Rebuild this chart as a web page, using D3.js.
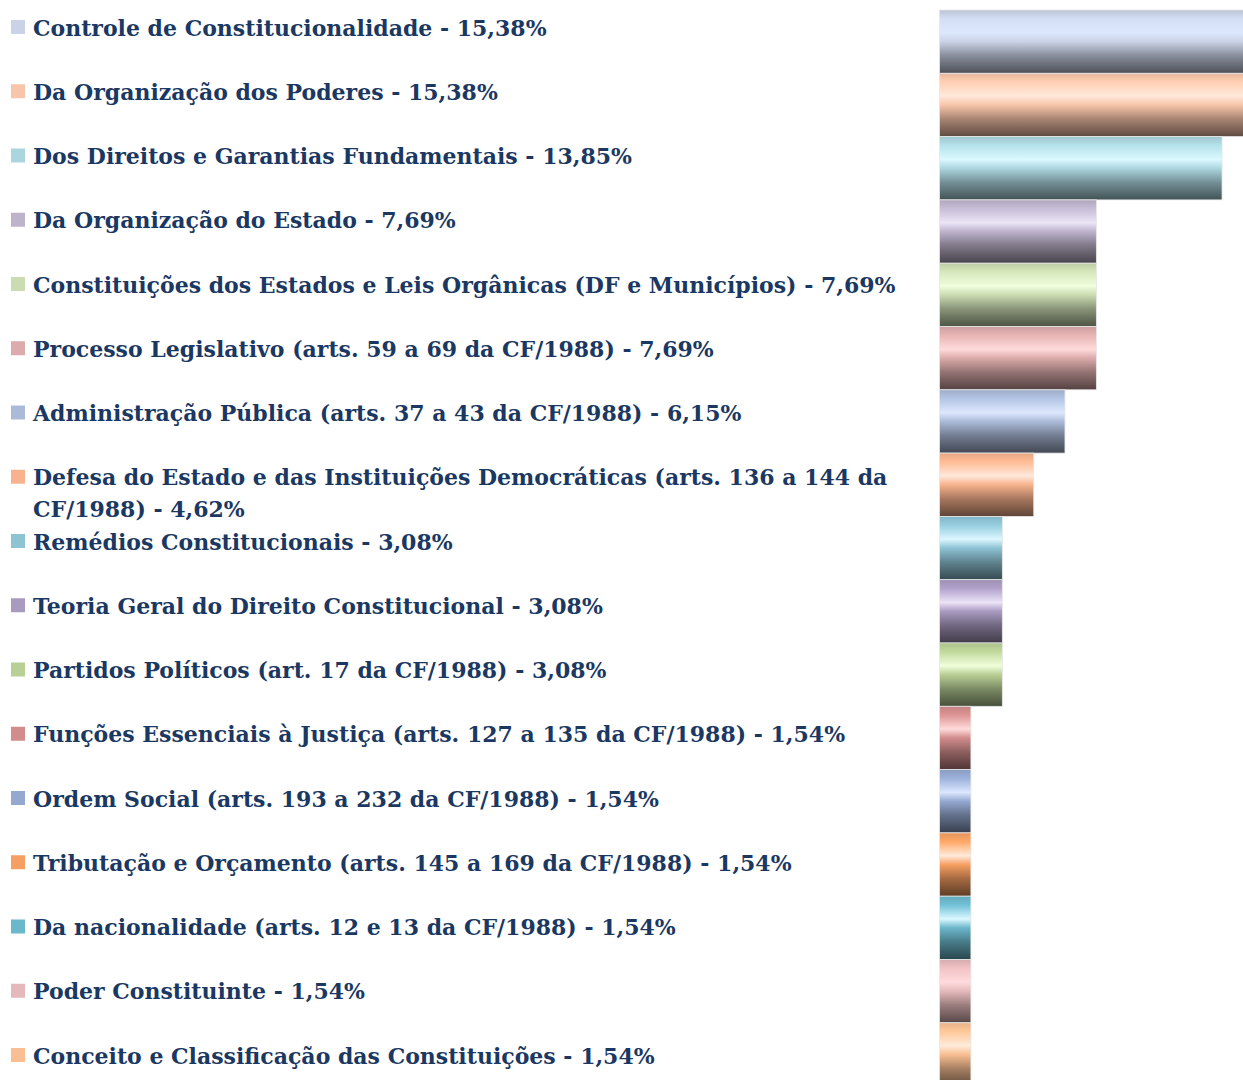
<!DOCTYPE html>
<html>
<head>
<meta charset="utf-8">
<script src="https://cdn.jsdelivr.net/npm/d3@7/dist/d3.min.js"></script>
<style>
  html, body { margin: 0; padding: 0; background: #fff; overflow: hidden; }
  svg { display: block; }
</style>
</head>
<body>
<svg id="chart" width="1243" height="1080"></svg>
<script>
// topics (legend order, top to bottom)
var categories = [
    'Controle de Constitucionalidade',
    'Da Organização dos Poderes',
    'Dos Direitos e Garantias Fundamentais',
    'Da Organização do Estado',
    'Constituições dos Estados e Leis Orgânicas (DF e Municípios)',
    'Processo Legislativo (arts. 59 a 69 da CF/1988)',
    'Administração Pública (arts. 37 a 43 da CF/1988)',
    'Defesa do Estado e das Instituições Democráticas (arts. 136 a 144 da CF/1988)',
    'Remédios Constitucionais',
    'Teoria Geral do Direito Constitucional',
    'Partidos Políticos (art. 17 da CF/1988)',
    'Funções Essenciais à Justiça (arts. 127 a 135 da CF/1988)',
    'Ordem Social (arts. 193 a 232 da CF/1988)',
    'Tributação e Orçamento (arts. 145 a 169 da CF/1988)',
    'Da nacionalidade (arts. 12 e 13 da CF/1988)',
    'Poder Constituinte',
    'Conceito e Classificação das Constituições'
];

// share of questions, in %
var values = [15.38, 15.38, 13.85, 7.69, 7.69, 7.69, 6.15, 4.62, 3.08, 3.08, 3.08, 1.54, 1.54, 1.54, 1.54, 1.54, 1.54];

var valueLabels = ['15,38%', '15,38%', '13,85%', '7,69%', '7,69%', '7,69%', '6,15%', '4,62%',
    '3,08%', '3,08%', '3,08%', '1,54%', '1,54%', '1,54%', '1,54%', '1,54%', '1,54%'];

var colors = ['#c9d2e6', '#f8c5aa', '#acd6df', '#bdb3cb', '#cbdcb2', '#dcabab', '#abbad8', '#f8b28d',
    '#8ec3d4', '#a99ac0', '#b8cf95', '#d28c8c', '#94a8d0', '#f79f62', '#6bb7cb', '#e5b9bb', '#f9bf92'];

var svg = d3.select('#chart'),
    defs = svg.append('defs'),
    textColor = '#1a3862';

// bars: one row each, stacked with no gap
var yBar = d3.scaleBand()
    .domain(categories)
    .range([10, 10 + categories.length * 63.3])
    .padding(0);

var x = d3.scaleLinear()
    .domain([0, 15])
    .range([939.5, 939.5 + 306]);

// legend rows
var yLeg = d3.scaleBand()
    .domain(categories)
    .range([-4, -4 + categories.length * 64.25])
    .padding(0);

// metallic vertical gradient for each bar
categories.forEach(function( c, i ){
    var base = d3.hsl(colors[i]),
        hi = d3.hsl(base.h, Math.min(1, base.s * 2.5), 0.93),
        g = defs.append('linearGradient')
            .attr('id', 'g' + i)
            .attr('x1', 0).attr('y1', 0)
            .attr('x2', 0).attr('y2', 1);

    [
        [0, d3.color(colors[i]).darker(0.2)],
        [0.14, d3.color(colors[i]).brighter(0.15)],
        [0.36, hi],
        [0.5, d3.color(colors[i])],
        [0.72, d3.color(colors[i]).darker(1.1)],
        [1, d3.color(colors[i]).darker(2.7)]
    ].forEach(function( s ){
        g.append('stop')
            .attr('offset', s[0])
            .attr('stop-color', s[1].formatHex());
    });
});

svg.append('g')
    .selectAll('rect')
    .data(categories)
    .join('rect')
    .attr('x', x(0))
    .attr('y', function( d ){ return yBar(d); })
    .attr('width', function( d, i ){ return x(values[i]) - x(0); })
    .attr('height', yBar.bandwidth())
    .attr('fill', function( d, i ){ return 'url(#g' + i + ')'; })
    .attr('stroke', '#e6e6e6')
    .attr('stroke-width', 0.8);

// legend
var leg = svg.append('g')
    .selectAll('g')
    .data(categories)
    .join('g')
    .attr('transform', function( d ){ return 'translate(0,' + yLeg(d) + ')'; });

leg.append('rect')
    .attr('x', 11)
    .attr('y', 24)
    .attr('width', 14)
    .attr('height', 14)
    .attr('fill', function( d, i ){ return colors[i]; });

leg.append('text')
    .attr('x', 33)
    .attr('y', 39.5)
    .attr('fill', textColor)
    .style('font-family', '"DejaVu Serif", serif')
    .style('font-weight', 'bold')
    .style('font-size', '22px')
    .each(function( d, i ){
        var full = d + ' - ' + valueLabels[i],
            el = d3.select(this),
            lines = [full];

        // the long one wraps onto a second line
        if ( full.length > 75 ){
            var cut = full.lastIndexOf(' ', 70);
            lines = [full.slice(0, cut), full.slice(cut + 1)];
        }

        lines.forEach(function( t, k ){
            el.append('tspan')
                .attr('x', 33)
                .attr('dy', k ? 32 : 0)
                .text(t);
        });
    });
</script>
</body>
</html>
